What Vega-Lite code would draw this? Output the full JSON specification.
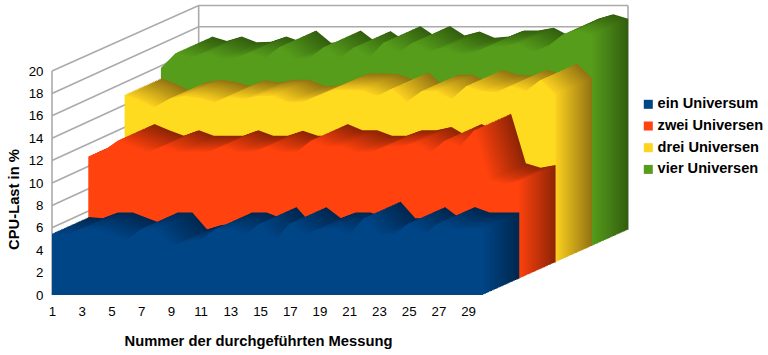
{"$schema":"https://vega.github.io/schema/vega-lite/v6.json","width":576,"height":290,"autosize":"none","padding":{"left":52,"top":5,"right":140,"bottom":60},"background":"white","config":{"view":{"stroke":null},"font":"Liberation Sans"},
"datasets":{
"wand":[{"g":"20","m":1,"v":20},{"g":"20","m":10.87,"v":25.85},{"g":"20","m":39.76,"v":25.85},{"g":"18","m":1,"v":18},{"g":"18","m":10.87,"v":23.95},{"g":"18","m":39.76,"v":23.95},{"g":"16","m":1,"v":16},{"g":"16","m":10.87,"v":22},{"g":"16","m":39.76,"v":22},{"g":"14","m":1,"v":14},{"g":"14","m":10.87,"v":20},{"g":"12","m":1,"v":12},{"g":"12","m":10.87,"v":18},{"g":"10","m":1,"v":10},{"g":"10","m":10.87,"v":16},{"g":"8","m":1,"v":8},{"g":"8","m":10.87,"v":14},{"g":"6","m":1,"v":6},{"g":"6","m":10.87,"v":12},{"g":"a","m":1,"v":0},{"g":"a","m":1,"v":20},{"g":"b","m":10.87,"v":5.82},{"g":"b","m":10.87,"v":25.85},{"g":"c","m":39.76,"v":5.82},{"g":"c","m":39.76,"v":25.85}],
"b":[{"m":1,"v":5.5},{"m":2,"v":5.4},{"m":3,"v":5.9},{"m":4,"v":5.9},{"m":5,"v":5.4},{"m":6,"v":4.9},{"m":7,"v":5.9},{"m":8,"v":5.9},{"m":9,"v":4.4},{"m":10,"v":4.8},{"m":11,"v":4.9},{"m":12,"v":5.9},{"m":13,"v":5.9},{"m":14,"v":5.4},{"m":15,"v":6.4},{"m":16,"v":4.9},{"m":17,"v":6.4},{"m":18,"v":5.4},{"m":19,"v":5.9},{"m":20,"v":5.9},{"m":21,"v":5.4},{"m":22,"v":6.9},{"m":23,"v":5.4},{"m":24,"v":5.4},{"m":25,"v":6.4},{"m":26,"v":5.4},{"m":27,"v":6.4},{"m":28,"v":5.9},{"m":29,"v":5.9},{"m":30,"v":5.9}],
"o":[{"m":1,"v":10.9},{"m":2,"v":11.4},{"m":3,"v":12.35},{"m":4,"v":11.8},{"m":5,"v":11.3},{"m":6,"v":11.8},{"m":7,"v":11.3},{"m":8,"v":11.3},{"m":9,"v":11.3},{"m":10,"v":11.8},{"m":11,"v":11.3},{"m":12,"v":11.3},{"m":13,"v":11.75},{"m":14,"v":11.3},{"m":15,"v":11.3},{"m":16,"v":12.35},{"m":17,"v":11.8},{"m":18,"v":11.8},{"m":19,"v":11.3},{"m":20,"v":11.3},{"m":21,"v":11.8},{"m":22,"v":11.8},{"m":23,"v":12.1},{"m":24,"v":11.3},{"m":25,"v":12.35},{"m":26,"v":11.8},{"m":27,"v":13.3},{"m":28,"v":8.85},{"m":29,"v":8.45},{"m":30,"v":8.7}],
"y":[{"m":1,"v":15},{"m":2,"v":14.5},{"m":3,"v":13.85},{"m":4,"v":14.6},{"m":5,"v":14.85},{"m":6,"v":14.67},{"m":7,"v":14.3},{"m":8,"v":14.8},{"m":9,"v":14.6},{"m":10,"v":14.85},{"m":11,"v":14.85},{"m":12,"v":14.3},{"m":13,"v":14.35},{"m":14,"v":14.85},{"m":15,"v":15.4},{"m":16,"v":15.4},{"m":17,"v":15.35},{"m":18,"v":14.85},{"m":19,"v":15.5},{"m":20,"v":14.35},{"m":21,"v":15.3},{"m":22,"v":15.3},{"m":23,"v":14.6},{"m":24,"v":15.75},{"m":25,"v":15.3},{"m":26,"v":15.2},{"m":27,"v":15.75},{"m":28,"v":15.3},{"m":29,"v":16.3},{"m":30,"v":15}],
"g":[{"m":1,"v":15.9},{"m":2,"v":17.25},{"m":3,"v":16.85},{"m":4,"v":17.25},{"m":5,"v":16.75},{"m":6,"v":16.8},{"m":7,"v":17.25},{"m":8,"v":16.8},{"m":9,"v":17.8},{"m":10,"v":16.7},{"m":11,"v":16.8},{"m":12,"v":17.8},{"m":13,"v":16.8},{"m":14,"v":17.75},{"m":15,"v":16.85},{"m":16,"v":18.2},{"m":17,"v":17.3},{"m":18,"v":18.2},{"m":19,"v":17.35},{"m":20,"v":17.7},{"m":21,"v":17.15},{"m":22,"v":17.25},{"m":23,"v":17.8},{"m":24,"v":17.8},{"m":25,"v":18.05},{"m":26,"v":17.35},{"m":27,"v":17.8},{"m":28,"v":18.85},{"m":29,"v":19.25},{"m":30,"v":18.85}]
},
"encoding":{
"x":{"field":"m","type":"quantitative","scale":{"domain":[1,39.76],"nice":false,"zero":false},"axis":{"values":[1,3,5,7,9,11,13,15,17,19,21,23,25,27,29],"grid":false,"domain":false,"ticks":false,"labelFontSize":13.3,"labelColor":"#000000","labelPadding":9,"labelFlush":false,"labelOverlap":false,"title":"Nummer der durchgeführten Messung","titleFontSize":14.75,"titleFontWeight":"bold","titleColor":"#000000","titleX":206,"titleY":46,"titleBaseline":"middle","titleAnchor":"middle"}},
"y":{"field":"v","type":"quantitative","stack":false,"scale":{"domain":[0,25.893],"nice":false},"axis":{"values":[0,2,4,6,8,10,12,14,16,18,20],"grid":false,"domain":false,"ticks":false,"labelFontSize":13.3,"labelColor":"#000000","labelPadding":9,"labelOverlap":false,"title":"CPU-Last in %","titleFontSize":14.75,"titleFontWeight":"bold","titleColor":"#000000","titleX":-38,"titleY":194,"titleBaseline":"middle","titleAnchor":"middle"}},
"y2":{"datum":0}
},
"layer":[
{"data":{"name":"wand"},"mark":{"type":"line","stroke":"#aaaaaa","strokeWidth":1.6},"encoding":{"detail":{"field":"g"},"y2":null}},
{"data":{"name":"g"},"mark":{"type":"area","xOffset":145.2,"yOffset":-65.2,"y2Offset":-65.2,"fill":"#33600f"}},
{"data":{"name":"g"},"mark":{"type":"area","xOffset":143.69,"yOffset":-64.52,"y2Offset":-64.52,"fill":"#346210"}},
{"data":{"name":"g"},"mark":{"type":"area","xOffset":142.18,"yOffset":-63.84,"y2Offset":-63.84,"fill":"#366510"}},
{"data":{"name":"g"},"mark":{"type":"area","xOffset":140.66,"yOffset":-63.16,"y2Offset":-63.16,"fill":"#386810"}},
{"data":{"name":"g"},"mark":{"type":"area","xOffset":139.15,"yOffset":-62.48,"y2Offset":-62.48,"fill":"#396a11"}},
{"data":{"name":"g"},"mark":{"type":"area","xOffset":137.64,"yOffset":-61.81,"y2Offset":-61.81,"fill":"#3b6c12"}},
{"data":{"name":"g"},"mark":{"type":"area","xOffset":136.13,"yOffset":-61.13,"y2Offset":-61.13,"fill":"#3c6f12"}},
{"data":{"name":"g"},"mark":{"type":"area","xOffset":134.61,"yOffset":-60.45,"y2Offset":-60.45,"fill":"#3e7112"}},
{"data":{"name":"g"},"mark":{"type":"area","xOffset":133.1,"yOffset":-59.77,"y2Offset":-59.77,"fill":"#3f7413"}},
{"data":{"name":"g"},"mark":{"type":"area","xOffset":131.59,"yOffset":-59.09,"y2Offset":-59.09,"fill":"#407614"}},
{"data":{"name":"g"},"mark":{"type":"area","xOffset":130.08,"yOffset":-58.41,"y2Offset":-58.41,"fill":"#427914"}},
{"data":{"name":"g"},"mark":{"type":"area","xOffset":128.56,"yOffset":-57.73,"y2Offset":-57.73,"fill":"#437c15"}},
{"data":{"name":"g"},"mark":{"type":"area","xOffset":127.05,"yOffset":-57.05,"y2Offset":-57.05,"fill":"#457f16"}},
{"data":{"name":"g"},"mark":{"type":"area","xOffset":125.54,"yOffset":-56.37,"y2Offset":-56.37,"fill":"#478116"}},
{"data":{"name":"g"},"mark":{"type":"area","xOffset":124.03,"yOffset":-55.69,"y2Offset":-55.69,"fill":"#488417"}},
{"data":{"name":"g"},"mark":{"type":"area","xOffset":122.51,"yOffset":-55.01,"y2Offset":-55.01,"fill":"#4a8618"}},
{"data":{"name":"g"},"mark":{"type":"area","xOffset":121,"yOffset":-54.33,"y2Offset":-54.33,"fill":"#4b8918"}},
{"data":{"name":"g"},"mark":{"type":"area","xOffset":119.49,"yOffset":-53.65,"y2Offset":-53.65,"fill":"#4c8c18"}},
{"data":{"name":"g"},"mark":{"type":"area","xOffset":117.98,"yOffset":-52.98,"y2Offset":-52.98,"fill":"#4e8e19"}},
{"data":{"name":"g"},"mark":{"type":"area","xOffset":116.46,"yOffset":-52.3,"y2Offset":-52.3,"fill":"#4f9119"}},
{"data":{"name":"g"},"mark":{"type":"area","xOffset":114.95,"yOffset":-51.62,"y2Offset":-51.62,"fill":"#51931a"}},
{"data":{"name":"g"},"mark":{"type":"area","xOffset":113.44,"yOffset":-50.94,"y2Offset":-50.94,"fill":"#53961a"}},
{"data":{"name":"g"},"mark":{"type":"area","xOffset":111.93,"yOffset":-50.26,"y2Offset":-50.26,"fill":"#54981b"}},
{"data":{"name":"g"},"mark":{"type":"area","xOffset":110.41,"yOffset":-49.58,"y2Offset":-49.58,"fill":"#569a1b"}},
{"data":{"name":"g"},"mark":{"type":"area","xOffset":108.9,"yOffset":-48.9,"y2Offset":-48.9},"encoding":{"color":{"datum":"vier Universen","type":"nominal","scale":{"domain":["ein Universum","zwei Universen","drei Universen","vier Universen"],"range":["#004586","#ff420e","#ffd320","#579d1c"]},"legend":{"title":null,"orient":"none","legendX":589,"legendY":92,"symbolType":"square","symbolSize":81,"symbolStrokeWidth":0,"symbolOpacity":1,"labelFontSize":14.6,"labelFontWeight":"bold","labelColor":"#000000","labelLimit":130,"labelOffset":2,"rowPadding":6.7,"values":["ein Universum","zwei Universen","drei Universen","vier Universen"]}}}},
{"data":{"name":"y"},"mark":{"type":"area","xOffset":108.9,"yOffset":-48.9,"y2Offset":-48.9,"fill":"#947512"}},
{"data":{"name":"y"},"mark":{"type":"area","xOffset":107.39,"yOffset":-48.22,"y2Offset":-48.22,"fill":"#987913"}},
{"data":{"name":"y"},"mark":{"type":"area","xOffset":105.88,"yOffset":-47.54,"y2Offset":-47.54,"fill":"#9d7d13"}},
{"data":{"name":"y"},"mark":{"type":"area","xOffset":104.36,"yOffset":-46.86,"y2Offset":-46.86,"fill":"#a28114"}},
{"data":{"name":"y"},"mark":{"type":"area","xOffset":102.85,"yOffset":-46.18,"y2Offset":-46.18,"fill":"#a68514"}},
{"data":{"name":"y"},"mark":{"type":"area","xOffset":101.34,"yOffset":-45.51,"y2Offset":-45.51,"fill":"#aa8915"}},
{"data":{"name":"y"},"mark":{"type":"area","xOffset":99.83,"yOffset":-44.83,"y2Offset":-44.83,"fill":"#af8d16"}},
{"data":{"name":"y"},"mark":{"type":"area","xOffset":98.31,"yOffset":-44.15,"y2Offset":-44.15,"fill":"#b49016"}},
{"data":{"name":"y"},"mark":{"type":"area","xOffset":96.8,"yOffset":-43.47,"y2Offset":-43.47,"fill":"#b89417"}},
{"data":{"name":"y"},"mark":{"type":"area","xOffset":95.29,"yOffset":-42.79,"y2Offset":-42.79,"fill":"#bc9818"}},
{"data":{"name":"y"},"mark":{"type":"area","xOffset":93.78,"yOffset":-42.11,"y2Offset":-42.11,"fill":"#c19c18"}},
{"data":{"name":"y"},"mark":{"type":"area","xOffset":92.26,"yOffset":-41.43,"y2Offset":-41.43,"fill":"#c5a018"}},
{"data":{"name":"y"},"mark":{"type":"area","xOffset":90.75,"yOffset":-40.75,"y2Offset":-40.75,"fill":"#caa419"}},
{"data":{"name":"y"},"mark":{"type":"area","xOffset":89.24,"yOffset":-40.07,"y2Offset":-40.07,"fill":"#cea81a"}},
{"data":{"name":"y"},"mark":{"type":"area","xOffset":87.73,"yOffset":-39.39,"y2Offset":-39.39,"fill":"#d2ac1a"}},
{"data":{"name":"y"},"mark":{"type":"area","xOffset":86.21,"yOffset":-38.71,"y2Offset":-38.71,"fill":"#d6b01a"}},
{"data":{"name":"y"},"mark":{"type":"area","xOffset":84.7,"yOffset":-38.03,"y2Offset":-38.03,"fill":"#dbb41b"}},
{"data":{"name":"y"},"mark":{"type":"area","xOffset":83.19,"yOffset":-37.35,"y2Offset":-37.35,"fill":"#dfb81c"}},
{"data":{"name":"y"},"mark":{"type":"area","xOffset":81.68,"yOffset":-36.68,"y2Offset":-36.68,"fill":"#e4bc1d"}},
{"data":{"name":"y"},"mark":{"type":"area","xOffset":80.16,"yOffset":-36,"y2Offset":-36,"fill":"#e8c01d"}},
{"data":{"name":"y"},"mark":{"type":"area","xOffset":78.65,"yOffset":-35.32,"y2Offset":-35.32,"fill":"#edc31e"}},
{"data":{"name":"y"},"mark":{"type":"area","xOffset":77.14,"yOffset":-34.64,"y2Offset":-34.64,"fill":"#f2c71f"}},
{"data":{"name":"y"},"mark":{"type":"area","xOffset":75.63,"yOffset":-33.96,"y2Offset":-33.96,"fill":"#f6cb1f"}},
{"data":{"name":"y"},"mark":{"type":"area","xOffset":74.11,"yOffset":-33.28,"y2Offset":-33.28,"fill":"#fbcf20"}},
{"data":{"name":"y"},"mark":{"type":"area","xOffset":72.6,"yOffset":-32.6,"y2Offset":-32.6,"fill":"#ffdb20"}},
{"data":{"name":"o"},"mark":{"type":"area","xOffset":72.6,"yOffset":-32.6,"y2Offset":-32.6,"fill":"#8f2506"}},
{"data":{"name":"o"},"mark":{"type":"area","xOffset":71.09,"yOffset":-31.92,"y2Offset":-31.92,"fill":"#942606"}},
{"data":{"name":"o"},"mark":{"type":"area","xOffset":69.58,"yOffset":-31.24,"y2Offset":-31.24,"fill":"#982707"}},
{"data":{"name":"o"},"mark":{"type":"area","xOffset":68.06,"yOffset":-30.56,"y2Offset":-30.56,"fill":"#9d2907"}},
{"data":{"name":"o"},"mark":{"type":"area","xOffset":66.55,"yOffset":-29.88,"y2Offset":-29.88,"fill":"#a22a07"}},
{"data":{"name":"o"},"mark":{"type":"area","xOffset":65.04,"yOffset":-29.21,"y2Offset":-29.21,"fill":"#a62b08"}},
{"data":{"name":"o"},"mark":{"type":"area","xOffset":63.53,"yOffset":-28.53,"y2Offset":-28.53,"fill":"#ab2c08"}},
{"data":{"name":"o"},"mark":{"type":"area","xOffset":62.01,"yOffset":-27.85,"y2Offset":-27.85,"fill":"#b02d08"}},
{"data":{"name":"o"},"mark":{"type":"area","xOffset":60.5,"yOffset":-27.17,"y2Offset":-27.17,"fill":"#b42f09"}},
{"data":{"name":"o"},"mark":{"type":"area","xOffset":58.99,"yOffset":-26.49,"y2Offset":-26.49,"fill":"#b93009"}},
{"data":{"name":"o"},"mark":{"type":"area","xOffset":57.48,"yOffset":-25.81,"y2Offset":-25.81,"fill":"#be3109"}},
{"data":{"name":"o"},"mark":{"type":"area","xOffset":55.96,"yOffset":-25.13,"y2Offset":-25.13,"fill":"#c2330a"}},
{"data":{"name":"o"},"mark":{"type":"area","xOffset":54.45,"yOffset":-24.45,"y2Offset":-24.45,"fill":"#c7340a"}},
{"data":{"name":"o"},"mark":{"type":"area","xOffset":52.94,"yOffset":-23.77,"y2Offset":-23.77,"fill":"#cc350a"}},
{"data":{"name":"o"},"mark":{"type":"area","xOffset":51.43,"yOffset":-23.09,"y2Offset":-23.09,"fill":"#d0360b"}},
{"data":{"name":"o"},"mark":{"type":"area","xOffset":49.91,"yOffset":-22.41,"y2Offset":-22.41,"fill":"#d5370b"}},
{"data":{"name":"o"},"mark":{"type":"area","xOffset":48.4,"yOffset":-21.73,"y2Offset":-21.73,"fill":"#da380b"}},
{"data":{"name":"o"},"mark":{"type":"area","xOffset":46.89,"yOffset":-21.05,"y2Offset":-21.05,"fill":"#de3a0c"}},
{"data":{"name":"o"},"mark":{"type":"area","xOffset":45.38,"yOffset":-20.38,"y2Offset":-20.38,"fill":"#e33b0c"}},
{"data":{"name":"o"},"mark":{"type":"area","xOffset":43.86,"yOffset":-19.7,"y2Offset":-19.7,"fill":"#e83c0d"}},
{"data":{"name":"o"},"mark":{"type":"area","xOffset":42.35,"yOffset":-19.02,"y2Offset":-19.02,"fill":"#ec3d0d"}},
{"data":{"name":"o"},"mark":{"type":"area","xOffset":40.84,"yOffset":-18.34,"y2Offset":-18.34,"fill":"#f13f0d"}},
{"data":{"name":"o"},"mark":{"type":"area","xOffset":39.33,"yOffset":-17.66,"y2Offset":-17.66,"fill":"#f6400d"}},
{"data":{"name":"o"},"mark":{"type":"area","xOffset":37.81,"yOffset":-16.98,"y2Offset":-16.98,"fill":"#fa410e"}},
{"data":{"name":"o"},"mark":{"type":"area","xOffset":36.3,"yOffset":-16.3,"y2Offset":-16.3},"encoding":{"color":{"datum":"zwei Universen","type":"nominal"}}},
{"data":{"name":"b"},"mark":{"type":"area","xOffset":36.3,"yOffset":-16.3,"y2Offset":-16.3,"fill":"#002850"}},
{"data":{"name":"b"},"mark":{"type":"area","xOffset":34.79,"yOffset":-15.62,"y2Offset":-15.62,"fill":"#002952"}},
{"data":{"name":"b"},"mark":{"type":"area","xOffset":33.28,"yOffset":-14.94,"y2Offset":-14.94,"fill":"#002a55"}},
{"data":{"name":"b"},"mark":{"type":"area","xOffset":31.76,"yOffset":-14.26,"y2Offset":-14.26,"fill":"#002c57"}},
{"data":{"name":"b"},"mark":{"type":"area","xOffset":30.25,"yOffset":-13.58,"y2Offset":-13.58,"fill":"#002d59"}},
{"data":{"name":"b"},"mark":{"type":"area","xOffset":28.74,"yOffset":-12.91,"y2Offset":-12.91,"fill":"#002e5b"}},
{"data":{"name":"b"},"mark":{"type":"area","xOffset":27.23,"yOffset":-12.23,"y2Offset":-12.23,"fill":"#002f5e"}},
{"data":{"name":"b"},"mark":{"type":"area","xOffset":25.71,"yOffset":-11.55,"y2Offset":-11.55,"fill":"#003060"}},
{"data":{"name":"b"},"mark":{"type":"area","xOffset":24.2,"yOffset":-10.87,"y2Offset":-10.87,"fill":"#003262"}},
{"data":{"name":"b"},"mark":{"type":"area","xOffset":22.69,"yOffset":-10.19,"y2Offset":-10.19,"fill":"#003364"}},
{"data":{"name":"b"},"mark":{"type":"area","xOffset":21.18,"yOffset":-9.51,"y2Offset":-9.51,"fill":"#003467"}},
{"data":{"name":"b"},"mark":{"type":"area","xOffset":19.66,"yOffset":-8.83,"y2Offset":-8.83,"fill":"#003569"}},
{"data":{"name":"b"},"mark":{"type":"area","xOffset":18.15,"yOffset":-8.15,"y2Offset":-8.15,"fill":"#00376b"}},
{"data":{"name":"b"},"mark":{"type":"area","xOffset":16.64,"yOffset":-7.47,"y2Offset":-7.47,"fill":"#00386d"}},
{"data":{"name":"b"},"mark":{"type":"area","xOffset":15.13,"yOffset":-6.79,"y2Offset":-6.79,"fill":"#003970"}},
{"data":{"name":"b"},"mark":{"type":"area","xOffset":13.61,"yOffset":-6.11,"y2Offset":-6.11,"fill":"#003a72"}},
{"data":{"name":"b"},"mark":{"type":"area","xOffset":12.1,"yOffset":-5.43,"y2Offset":-5.43,"fill":"#003b74"}},
{"data":{"name":"b"},"mark":{"type":"area","xOffset":10.59,"yOffset":-4.75,"y2Offset":-4.75,"fill":"#003d76"}},
{"data":{"name":"b"},"mark":{"type":"area","xOffset":9.08,"yOffset":-4.08,"y2Offset":-4.08,"fill":"#003e79"}},
{"data":{"name":"b"},"mark":{"type":"area","xOffset":7.56,"yOffset":-3.4,"y2Offset":-3.4,"fill":"#003f7b"}},
{"data":{"name":"b"},"mark":{"type":"area","xOffset":6.05,"yOffset":-2.72,"y2Offset":-2.72,"fill":"#00407d"}},
{"data":{"name":"b"},"mark":{"type":"area","xOffset":4.54,"yOffset":-2.04,"y2Offset":-2.04,"fill":"#00417f"}},
{"data":{"name":"b"},"mark":{"type":"area","xOffset":3.03,"yOffset":-1.36,"y2Offset":-1.36,"fill":"#004382"}},
{"data":{"name":"b"},"mark":{"type":"area","xOffset":1.51,"yOffset":-0.68,"y2Offset":-0.68,"fill":"#004484"}},
{"data":{"name":"b"},"mark":{"type":"area"},"encoding":{"color":{"datum":"ein Universum","type":"nominal"}}}
]}
